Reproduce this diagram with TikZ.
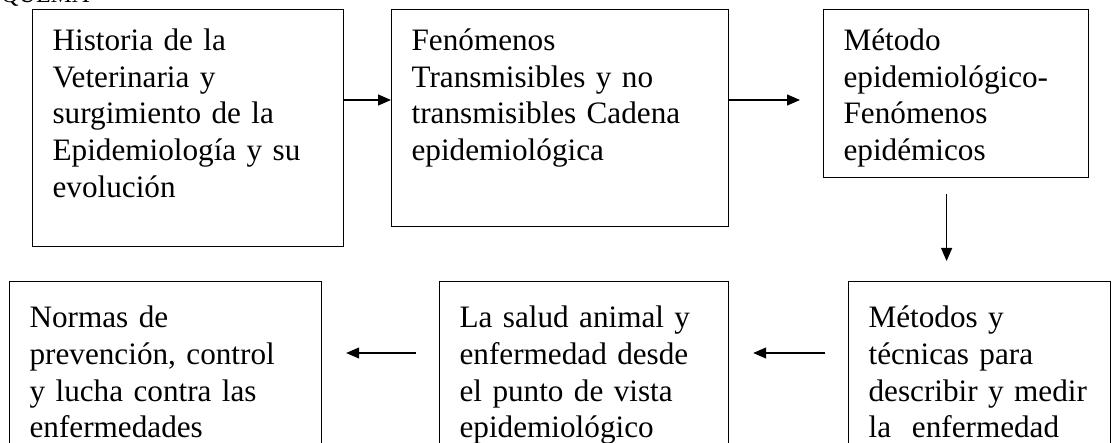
\documentclass[tikz,border=0pt]{standalone}
\usepackage{fontspec}
\setmainfont{Liberation Serif}
\usetikzlibrary{arrows.meta, positioning}

\begin{document}
\begin{tikzpicture}[x=0.5pt, y=-0.5pt, >={Triangle[length=6.5pt,width=5.5pt]}, semithick]
    \tikzstyle{caja}=[shape=rectangle, fill=none, draw=black, text=black, anchor=north west, align=left, inner xsep=10pt, inner ysep=0pt, font=\fontsize{15.6}{18.35}\selectfont]
    \tikzstyle{arriba}=[caja, text height=20.5pt]
    \tikzstyle{abajo}=[caja, text height=23pt, text depth=80pt]

    \clip (0,0) rectangle (1113,443);

    \node[anchor=base east, inner sep=0pt, font=\fontsize{12}{14}\selectfont] (titulo) at (90,3) {ESQUEMA};

    \node[arriba, text width=135.5pt, text depth=98pt] (s1) at (32,9) {Historia de la\\ Veterinaria y\\ surgimiento de la\\ Epidemiología y su\\ evolución};
    \node[arriba, text width=148.5pt, text depth=88pt] (s2) at (391,9) {Fenómenos\\ Transmisibles y no\\ transmisibles Cadena\\ epidemiológica};
    \node[arriba, text width=112.5pt, text depth=63.5pt] (s3) at (823,9) {Método\\ epidemiológico-\\ Fenómenos\\ epidémicos};
    \node[abajo, text width=111pt] (s4) at (848,281) {Métodos y\\ técnicas para\\ describir y medir\\ la\ \ enfermedad};
    \node[abajo, text width=124.5pt] (s5) at (439,281) {La salud animal y\\ enfermedad desde\\ el punto de vista\\ epidemiológico};
    \node[abajo, text width=136pt] (s6) at (9,281) {Normas de\\ prevención, control\\ y lucha contra las\\ enfermedades};

    \coordinate (bajada) at ([xshift=-4.75pt]s3.south);

    \path
    ([yshift=-45.5pt]s1.north east) edge[->] ([yshift=-45.5pt]s2.north west)
    ([yshift=-45.5pt]s2.north east) edge[->, shorten >=11.5pt] ([yshift=-45.5pt]s3.north west)
    (bajada) edge[->, shorten <=8pt, shorten >=10pt] (bajada |- s4.north)
    ([yshift=-36pt]s4.north west) edge[->, shorten <=11.5pt, shorten >=12pt] ([yshift=-36pt]s5.north east)
    ([yshift=-36pt]s5.north west) edge[->, shorten <=11.5pt, shorten >=12pt] ([yshift=-36pt]s6.north east)
            ;

\end{tikzpicture}
\end{document}
